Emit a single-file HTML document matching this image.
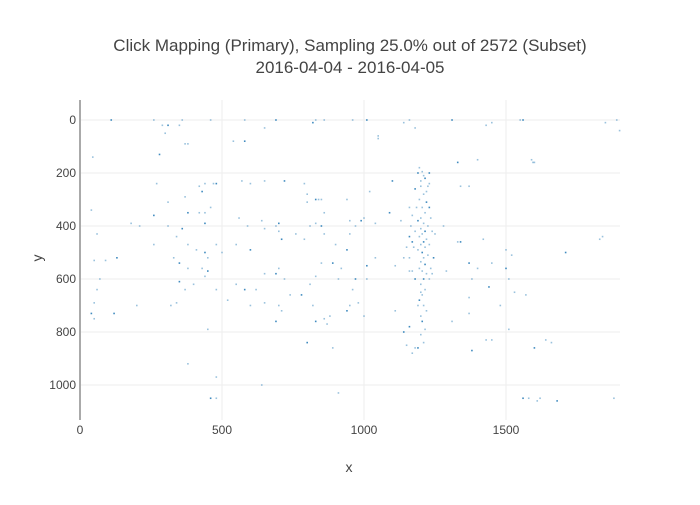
<!DOCTYPE html>
<html><head><meta charset="utf-8"><style>
body{margin:0;background:#fff;font-family:"Liberation Sans",sans-serif}
</style></head><body>
<svg width="700" height="500" xmlns="http://www.w3.org/2000/svg">
<rect width="700" height="500" fill="#fff"/>
<text x="350" y="51" text-anchor="middle" font-size="17" fill="#444">Click Mapping (Primary), Sampling 25.0% out of 2572 (Subset)</text>
<text x="350" y="73" text-anchor="middle" font-size="17" fill="#444">2016-04-04 - 2016-04-05</text>
<g id="grid"></g><g id="pts"></g><g id="axes"></g>
<text x="349" y="472" text-anchor="middle" font-size="14" fill="#444">x</text>
<text x="42" y="258" text-anchor="middle" font-size="14" fill="#444" transform="rotate(-90 42 258)">y</text>
</svg>
<script>
const xTicks=[0,500,1000,1500];
const yTicks=[0,200,400,600,800,1000];
const points=[[110,0],[260,0],[290,20],[300,50],[310,20],[350,20],[360,0],[460,0],[690,0],[830,0],[860,0],[960,0],[1010,0],[1140,10],[1160,0],[1180,30],[1310,0],[1430,20],[1450,10],[1550,0],[1560,0],[1890,0],[1900,40],[1850,10],[820,10],[580,0],
[1050,60],[1050,70],[280,130],[370,90],[380,90],[540,80],[580,80],[650,30],[45,140],[1400,150],[1330,160],[1590,150],[1600,160],[1595,160],
[1190,200],[1210,210],[1200,230],[1230,240],[1180,260],[1220,270],[1340,250],[1370,250],[1100,230],[1020,270],[790,240],[800,280],[830,300],[840,300],[850,300],[800,310],[720,230],[650,230],[600,240],[570,230],[480,240],[470,240],[440,240],[420,250],[430,270],[460,330],[420,350],[440,350],[440,390],[270,240],[370,290],[310,310],[380,350],[40,340],[180,390],[210,400],[260,360],[260,470],[310,400],[340,440],[360,410],
[560,370],[640,380],[590,400],[700,390],[760,430],[810,400],[830,390],[850,400],[860,350],[940,300],[950,380],[990,380],[1000,370],[970,400],[1040,390],[1090,350],[1130,380],[1160,330],[1180,420],[1170,460],[1250,430],[1280,400],[1330,460],[1340,460],[1420,450],[1500,490],[1520,510],[1710,500],[1830,450],[1840,440],[950,430],[940,490],[900,470],[860,430],[790,450],[710,450],[700,420],[690,400],[650,410],[600,490],[550,470],[500,500],[480,470],[440,500],[410,490],[380,470],[330,520],[350,540],[380,560],[430,560],[450,520],[130,520],[90,530],[60,430],[50,530],
[1010,550],[1040,520],[1110,550],[1160,570],[1180,600],[1200,650],[1240,580],[1290,570],[1370,540],[1380,600],[1400,560],[1450,540],[1500,560],[1510,600],[1530,650],[1570,660],[1440,630],[1370,670],[1480,700],[1010,600],[970,600],[960,640],[920,560],[910,600],[890,540],[850,540],[830,590],[810,620],[780,660],[740,660],[720,600],[700,560],[690,580],[650,580],[620,640],[600,700],[580,640],[550,620],[520,680],[480,640],[450,570],[440,590],[400,620],[370,640],[350,610],[320,700],[340,690],[200,700],[120,730],[70,600],[60,640],[50,690],[40,730],[50,750],[980,690],[950,700],[940,720],[880,740],[860,750],[870,770],[830,760],[820,700],[710,720],[700,700],[690,760],[650,690],[1000,740],[1110,720],[1140,800],[1150,850],[1180,860],[1170,880],[1160,780],[1190,700],[1310,760],[1370,730],[1380,870],[1430,830],[1450,830],[1510,790],[1600,860],[1640,830],[1660,840],[890,860],[800,840],[450,790],[380,920],[480,970],[460,1050],[480,1050],[640,1000],[910,1030],[1560,1050],[1580,1050],[1610,1060],[1620,1050],[1680,1060],[1880,1050],
[1195,180],[1205,195],[1215,220],[1200,250],[1210,280],[1195,300],[1220,310],[1205,330],[1215,350],[1200,370],[1190,380],[1210,390],[1225,400],[1200,410],[1215,420],[1205,430],[1195,440],[1220,450],[1210,460],[1200,470],[1215,480],[1190,490],[1205,500],[1225,510],[1210,520],[1200,535],[1215,545],[1195,560],[1205,570],[1220,580],[1210,600],[1200,620],[1215,640],[1205,660],[1195,680],[1210,700],[1220,720],[1200,740],[1205,760],[1215,790],[1200,810],[1210,840],[1190,860],[1185,330],[1170,360],[1165,400],[1160,440],[1175,480],[1160,520],[1170,570],[1230,330],[1235,370],[1240,420],[1230,470],[1245,520],[1235,560],[1230,600],[1225,250],[1230,200],[1150,480],[1140,520]];
const NS="http://www.w3.org/2000/svg";
const X0=80,X1=620,Y0=100,Y1=420;
const xs=v=>80+v*0.284, ys=v=>120+v*0.265;
function mk(t,a,p){const e=document.createElementNS(NS,t);for(const k in a)e.setAttribute(k,a[k]);p.appendChild(e);return e;}
const grid=document.getElementById('grid'),axes=document.getElementById('axes'),pts=document.getElementById('pts');
xTicks.forEach(t=>{const x=xs(t);
 if(t!==0){const l=mk('line',{x1:x,x2:x,y1:Y0,y2:Y1,stroke:'#eee','stroke-width':1},grid);
 
 }
 const tx=mk('text',{x:x,y:434,'text-anchor':'middle','font-size':12,fill:'#444'},axes);tx.textContent=t;
 
 });
yTicks.forEach(t=>{const y=ys(t);
 const l=mk('line',{x1:X0,x2:X1,y1:y,y2:y,stroke:'#eee','stroke-width':1},grid);
 
 
 const tx=mk('text',{x:76,y:y+4,'text-anchor':'end','font-size':12,fill:'#444'},axes);tx.textContent=t;
 
 });
const ax=mk('line',{x1:X0,x2:X0,y1:Y0,y2:Y1,stroke:'#aaa','stroke-width':2},axes);


points.forEach((p,i)=>{const r=mk('rect',{x:xs(p[0])-0.8,y:ys(p[1])-0.8,width:1.6,height:1.6,fill:'#1f77b4',opacity:(i%4===0?0.85:0.45)},pts);
 
 });
</script>
</body></html>
